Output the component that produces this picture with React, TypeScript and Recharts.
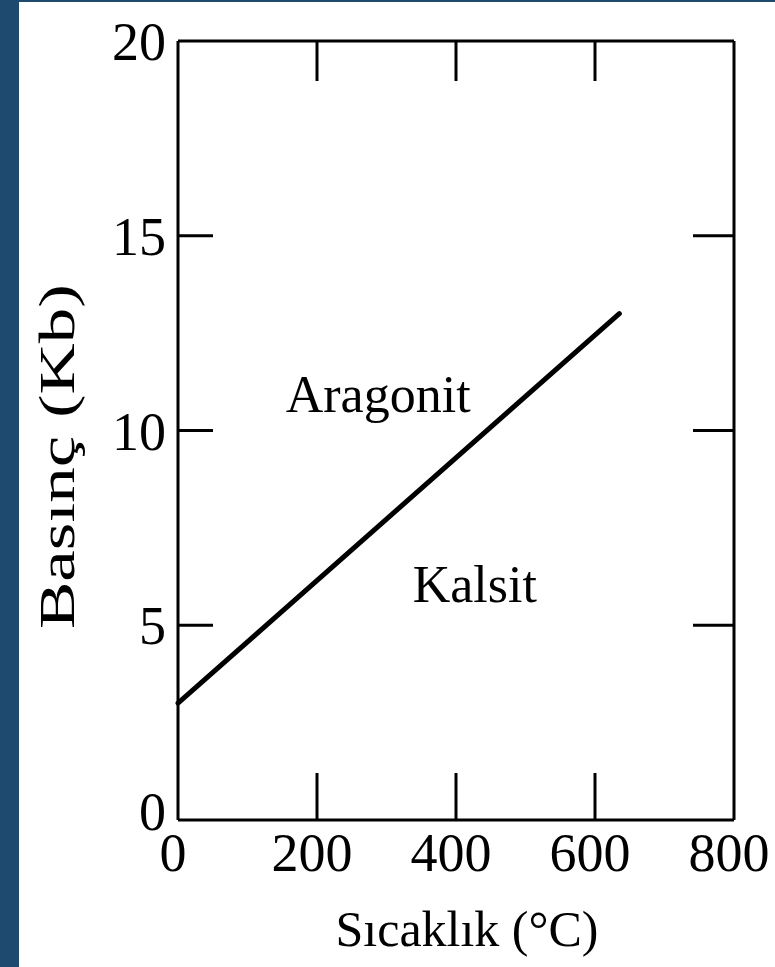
import React from "react";
import { LineChart, Line, XAxis, YAxis, ReferenceDot, Label } from "recharts";

// temperature (°C) vs pressure (Kb) along the aragonite / calcite boundary
const temps = [0, 635];
const pressures = [3, 13];
const xTicks = [0, 200, 400, 600, 800];
const yTicks = [0, 5, 10, 15, 20];
const xTitle = "Sıcaklık (°C)";
const yTitle = "Basınç (Kb)";
const regionNames = ["Aragonit", "Kalsit"];
const regionTemps = [288, 427];
const regionPressures = [10.94, 6.07];

const data = temps.map((t, i) => ({ t, p: pressures[i] }));

const FONT = '"Liberation Serif", "Times New Roman", serif';
const INK = "#000";

const BottomTick = (props: any) => {
  const { x, y, payload } = props;
  const v = payload.value;
  return (
    <g>
      {v > 0 && v < 800 && <line x1={x} y1={y} x2={x} y2={y - 47} stroke={INK} strokeWidth={3} />}
      <text x={x - 5} y={y + 51} textAnchor="middle" fontFamily={FONT} fontSize={54} fill={INK}>
        {v}
      </text>
    </g>
  );
};

const TopTick = (props: any) => {
  const { x, y, payload } = props;
  const v = payload.value;
  if (v <= 0 || v >= 800) return <g />;
  return <line x1={x} y1={y} x2={x} y2={y + 40} stroke={INK} strokeWidth={3} />;
};

const LeftTick = (props: any) => {
  const { x, y, payload } = props;
  const v = payload.value;
  // the zero label sits a little higher, clear of the x-axis zero
  const dy = v === 0 ? 10 : 19;
  return (
    <g>
      {v > 0 && v < 20 && <line x1={x} y1={y} x2={x + 35} y2={y} stroke={INK} strokeWidth={3} />}
      <text x={x - 12} y={y + dy} textAnchor="end" fontFamily={FONT} fontSize={54} fill={INK}>
        {v}
      </text>
    </g>
  );
};

const RightTick = (props: any) => {
  const { x, y, payload } = props;
  const v = payload.value;
  if (v <= 0 || v >= 20) return <g />;
  return <line x1={x} y1={y} x2={x - 41} y2={y} stroke={INK} strokeWidth={3} />;
};

const YTitle = (props: any) => {
  const vb = props.viewBox || { x: 0, y: 0, width: 0, height: 0 };
  const cy = vb.y + vb.height / 2 + 26;
  return (
    <text
      transform={`translate(74, ${cy}) rotate(-90) scale(1.42, 1)`}
      textAnchor="middle"
      fontFamily={FONT}
      fontSize={50}
      fill={INK}
    >
      {yTitle}
    </text>
  );
};

const XTitle = () => (
  <text x={467} y={946} textAnchor="middle" fontFamily={FONT} fontSize={50} fill={INK}>
    {xTitle}
  </text>
);

export default function App() {
  return (
    <div style={{ position: "absolute", left: 0, top: 0, width: 775, height: 967, background: "#1f4a70" }}>
      <div style={{ position: "absolute", left: 19, top: 2, right: 0, bottom: 0, background: "#fff" }} />
      <div style={{ position: "absolute", left: 0, top: 0 }}>
        <LineChart width={775} height={967} data={data} margin={{ top: 40, right: 40, bottom: 27, left: 38 }}>
          <XAxis
            xAxisId="b"
            dataKey="t"
            type="number"
            domain={[0, 800]}
            ticks={xTicks}
            interval={0}
            height={120}
            tickSize={0}
            tickMargin={0}
            tickLine={false}
            axisLine={{ stroke: INK, strokeWidth: 3 }}
            tick={<BottomTick />}
          >
            <Label content={<XTitle />} />
          </XAxis>
          <XAxis
            xAxisId="t"
            dataKey="t"
            orientation="top"
            type="number"
            domain={[0, 800]}
            ticks={xTicks}
            interval={0}
            height={1}
            tickSize={0}
            tickMargin={0}
            tickLine={false}
            axisLine={{ stroke: INK, strokeWidth: 3 }}
            tick={<TopTick />}
          />
          <YAxis
            yAxisId="l"
            dataKey="p"
            type="number"
            domain={[0, 20]}
            ticks={yTicks}
            interval={0}
            width={140}
            tickSize={0}
            tickMargin={0}
            tickLine={false}
            axisLine={{ stroke: INK, strokeWidth: 3 }}
            tick={<LeftTick />}
          >
            <Label content={<YTitle />} />
          </YAxis>
          <YAxis
            yAxisId="r"
            dataKey="p"
            orientation="right"
            type="number"
            domain={[0, 20]}
            ticks={yTicks}
            interval={0}
            width={1}
            tickSize={0}
            tickMargin={0}
            tickLine={false}
            axisLine={{ stroke: INK, strokeWidth: 3 }}
            tick={<RightTick />}
          />
          <Line
            xAxisId="b"
            yAxisId="l"
            type="linear"
            dataKey="p"
            stroke={INK}
            strokeWidth={5}
            strokeLinecap="round"
            dot={false}
            activeDot={false}
            isAnimationActive={false}
          />
          {regionNames.map((name, i) => (
            <ReferenceDot
              key={name}
              xAxisId="b"
              yAxisId="l"
              x={regionTemps[i]}
              y={regionPressures[i]}
              r={0}
              stroke="none"
              fill="none"
              label={{ value: name, position: "center", fontSize: 52, fontFamily: FONT, fill: INK }}
            />
          ))}
        </LineChart>
      </div>
    </div>
  );
}
